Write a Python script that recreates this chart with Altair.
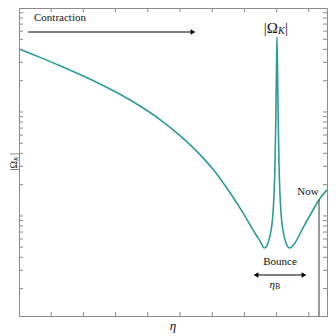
import altair as alt
import pandas as pd

# curve data (conformal time eta, |Omega_K|)
eta = [0.000, 0.652, 1.273, 1.894, 2.516, 3.137, 3.758, 4.379, 5.000, 5.621, 6.087,
       6.553, 6.957, 7.267, 7.422, 7.516, 7.609, 7.671, 7.733, 7.795, 7.857, 7.888,
       7.919, 7.950, 7.975, 7.994, 8.012, 8.031, 8.050, 8.075, 8.106, 8.137, 8.168,
       8.230, 8.292, 8.354, 8.416, 8.571, 8.820, 9.130, 9.317, 9.565]
omega = [40.3, 33.5, 27.8, 22.9, 18.6, 14.8, 11.4, 8.45, 5.93, 3.89, 2.66,
         1.67, 1.07, 0.733, 0.614, 0.550, 0.492, 0.503, 0.550, 0.642, 0.838, 1.07,
         1.59, 3.09, 8.38, 22.7, 52.6, 22.7, 8.38, 3.09, 1.59, 1.07, 0.838,
         0.642, 0.550, 0.503, 0.492, 0.550, 0.767, 1.14, 1.43, 1.78]

x_ticks = [1, 2, 3, 4, 5, 6, 7, 8, 9]
y_ticks = [0.2, 0.3, 0.4, 0.5, 0.6, 0.7, 0.8, 0.9,
           1, 2, 3, 4, 5, 6, 7, 8, 9,
           10, 20, 30, 40, 50, 60, 70, 80, 90, 100]

now_eta = [9.317]
now_omega = [1.43]

W, H = 308, 308
FONT = "Liberation Serif"
TEAL = "#2b9c96"
FRAME = "#8a8a8a"

xs = alt.Scale(domain=[0, 9.565], nice=False, zero=False)
ys = alt.Scale(type="log", domain=[0.109, 100], nice=False)

df = pd.DataFrame({"eta": eta, "omega": omega})
xt = pd.DataFrame({"t": x_ticks})
yt = pd.DataFrame({"v": y_ticks})
nowdf = pd.DataFrame({"eta": now_eta, "omega": now_omega})
one = pd.DataFrame({"k": [0]})

line = alt.Chart(df).mark_line(color=TEAL, strokeWidth=1.6, interpolate="monotone").encode(
    x=alt.X("eta:Q", scale=xs, axis=None),
    y=alt.Y("omega:Q", scale=ys, axis=None),
)

tick_style = dict(color=FRAME, strokeWidth=1)
left_t = alt.Chart(yt).mark_rule(**tick_style).encode(
    y=alt.Y("v:Q", scale=ys, axis=None), x=alt.value(0), x2=alt.value(4))
right_t = alt.Chart(yt).mark_rule(**tick_style).encode(
    y=alt.Y("v:Q", scale=ys, axis=None), x=alt.value(W), x2=alt.value(W - 4))
bot_t = alt.Chart(xt).mark_rule(**tick_style).encode(
    x=alt.X("t:Q", scale=xs, axis=None), y=alt.value(H), y2=alt.value(H - 4))
top_t = alt.Chart(xt).mark_rule(**tick_style).encode(
    x=alt.X("t:Q", scale=xs, axis=None), y=alt.value(0), y2=alt.value(4))

now_line = alt.Chart(nowdf).mark_rule(color="#333333", strokeWidth=1).encode(
    x=alt.X("eta:Q", scale=xs, axis=None),
    y=alt.Y("omega:Q", scale=ys, axis=None),
    y2=alt.value(H),
)

def txt(text, x, y, size=11, align="center", angle=0, style="normal", baseline="middle"):
    kw = dict(text=text, font=FONT, fontSize=size, align=align, baseline=baseline,
              color="#111111", fontStyle=style)
    if angle:
        kw["angle"] = angle
    return alt.Chart(one).mark_text(**kw).encode(x=alt.value(x), y=alt.value(y))

def arrow_rule(x1, x2, y):
    return alt.Chart(one).mark_rule(color="black", strokeWidth=1).encode(
        x=alt.value(x1), x2=alt.value(x2), y=alt.value(y))

def head(x, y, shape):
    return alt.Chart(one).mark_point(shape=shape, filled=True, color="black", size=30, opacity=1).encode(
        x=alt.value(x), y=alt.value(y))

layers = [
    line, left_t, right_t, bot_t, top_t, now_line,
    txt("Contraction", 41, 10, 11),
    arrow_rule(9, 172, 24), head(174, 24, "triangle-right"),
    txt("|Ω", 259, 20, 15, align="right"),
    txt("K", 259, 23, 10, align="left", style="italic"),
    txt("|", 266, 20, 15, align="left"),
    txt("Now", 289, 184, 11),
    txt("Bounce", 261, 254, 11),
    arrow_rule(238, 283, 267), head(237, 267, "triangle-left"), head(285, 267, "triangle-right"),
    txt("η", 256, 277, 11, align="right", style="italic"),
    txt("B", 256, 279, 8, align="left"),
    txt("η", 154, 318, 13, style="italic"),
    txt("|Ω", -5, 153, 10, align="right", angle=270),
    txt("K", -3, 153, 7, align="left", angle=270, style="italic"),
    txt("|", -5, 147, 10, align="left", angle=270),
]

chart = alt.layer(*layers).properties(
    width=W, height=H,
    autosize=alt.AutoSizeParams(type="none"),
    padding={"left": 11, "top": 0, "right": 1, "bottom": 18},
).configure_view(stroke=FRAME, strokeWidth=1)

chart.save("out.html", embed_options={"renderer": "svg", "actions": False})
